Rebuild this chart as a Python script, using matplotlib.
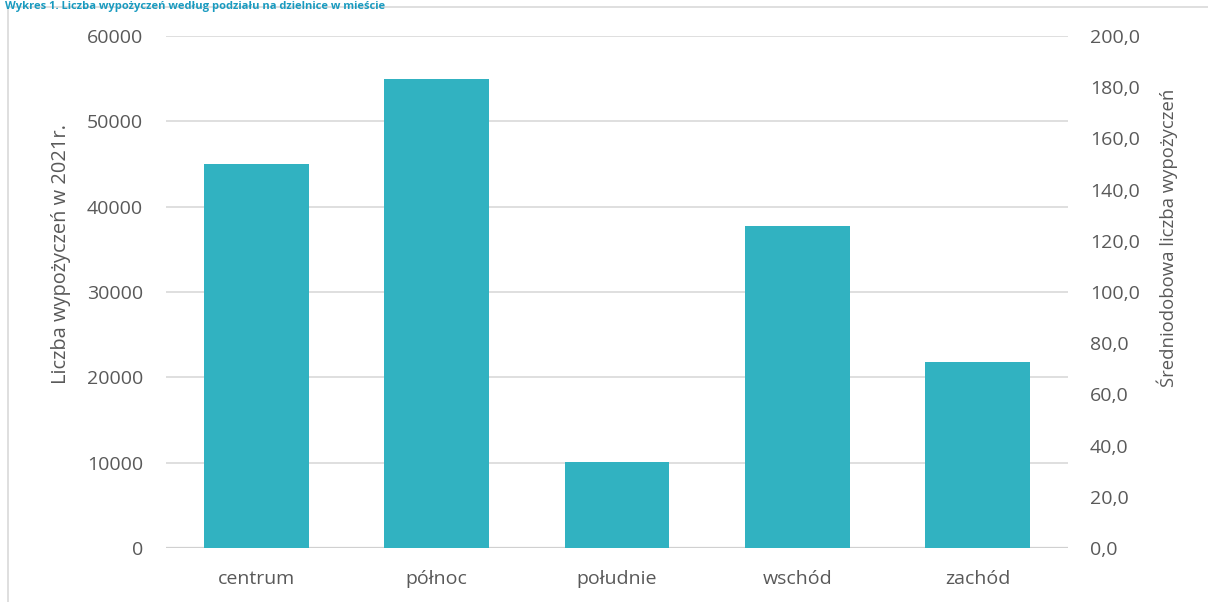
import matplotlib
matplotlib.use("Agg")
import matplotlib.pyplot as plt
from matplotlib.ticker import FuncFormatter
from matplotlib.patches import Rectangle

categories = ["centrum", "północ", "południe", "wschód", "zachód"]
loans_2021 = [45000, 55000, 10100, 37700, 21800]
left_ticks = [0, 10000, 20000, 30000, 40000, 50000, 60000]
right_ticks = [0, 20, 40, 60, 80, 100, 120, 140, 160, 180, 200]

title = "Wykres 1. Liczba wypożyczeń według podziału na dzielnice w mieście"
ylabel_left = "Liczba wypożyczeń w 2021r."
ylabel_right = "Średniodobowa liczba wypożyczeń"

W, H = 1208, 602
plt.rcParams['font.family'] = ['Open Sans', 'DejaVu Sans']
text_col = "#595959"
grid_col = "#D9D9D9"
bar_col = "#31B2C1"

fig = plt.figure(figsize=(W / 100, H / 100), dpi=100, facecolor="white")
fig.patches.append(Rectangle((8 / W, -0.1), 1.2, 1 - 7 / H + 0.1, transform=fig.transFigure,
                             facecolor="none", edgecolor=grid_col, linewidth=1.2, zorder=-10))

ax = fig.add_axes([166 / W, 1 - 548 / H, (1068 - 166) / W, (548 - 36) / H])
ax.patch.set_alpha(0)
x = range(len(categories))
ax.bar(x, loans_2021, width=0.58, color=bar_col, zorder=3)
ax.set_xlim(-0.5, len(categories) - 0.5)
ax.set_ylim(0, 60000)
ax.set_yticks(left_ticks)
ax.set_xticks(list(x))
ax.set_xticklabels(categories)
ax.grid(axis='y', color=grid_col, linewidth=1.2, zorder=0)
for s in ax.spines.values():
    s.set_visible(False)
ax.axhline(0, color="#D0D0D0", linewidth=1.6, zorder=2)
ax.tick_params(axis='y', length=0, pad=16.5, labelsize=14, labelcolor=text_col)
ax.tick_params(axis='x', length=0, pad=15.5, labelsize=14, labelcolor=text_col)
ax.set_ylabel(ylabel_left, fontsize=14.4, color=text_col)
ax.yaxis.set_label_coords(-95 / 902, (548 - 254) / 512)

ax2 = ax.twinx()
ax2.patch.set_alpha(0)
ax2.set_ylim(0, 200)
ax2.set_yticks(right_ticks)
ax2.yaxis.set_major_formatter(FuncFormatter(lambda v, p: f"{v:.1f}".replace(".", ",")))
for s in ax2.spines.values():
    s.set_visible(False)
ax2.tick_params(axis='y', length=0, pad=15.8, labelsize=14, labelcolor=text_col)
ax2.set_ylabel(ylabel_right, fontsize=13.3, color=text_col, rotation=90)
ax2.yaxis.set_label_coords(1 + 88 / 902, (548 - 238) / 512)

fig.text(0.004, 1 - 1 / H, title, va='top', ha='left', fontsize=8,
         fontweight='bold', color="#1A9BC0")

fig.savefig("out.png", dpi=100, facecolor="white")
